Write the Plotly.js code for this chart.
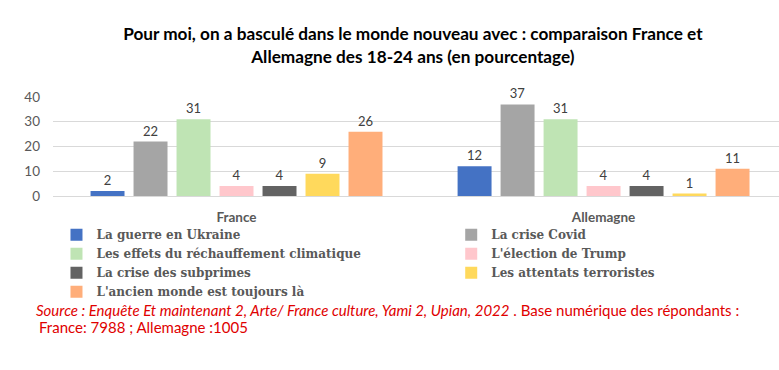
<!DOCTYPE html>
<html>
<head>
<meta charset="utf-8">
<script src="https://cdn.plot.ly/plotly-3.0.1.min.js"></script>
<style>html,body{margin:0;padding:0;background:#fff;}#chart{width:779px;height:370px;}</style>
</head>
<body>
<div id="chart"></div>
<script>
const countries = ["France", "Allemagne"];
const seriesNames = [
  "La guerre en Ukraine",
  "La crise Covid",
  "Les effets du réchauffement climatique",
  "L'élection de Trump",
  "La crise des subprimes",
  "Les attentats terroristes",
  "L'ancien monde est toujours là"
];
const ukraine = [2, 12];
const covid = [22, 37];
const climat = [31, 31];
const trump = [4, 4];
const subprimes = [4, 4];
const attentats = [9, 1];
const ancien = [26, 11];
const seriesValues = [ukraine, covid, climat, trump, subprimes, attentats, ancien];
const colors = ["#4472C4", "#A5A5A5", "#BFE4B4", "#FFC7CC", "#636363", "#FFD95C", "#FFAE7A"];
const yTicks = [0, 10, 20, 30, 40];

const traces = seriesNames.map((name, i) => ({
  type: "bar",
  name: name,
  x: countries,
  y: seriesValues[i],
  marker: {color: colors[i]},
  text: seriesValues[i].map(String),
  textposition: "outside",
  cliponaxis: false,
  textfont: {family: "Lato, 'Open Sans', sans-serif", size: 13, color: "#404040"},
  legend: (i % 2 === 0) ? "legend" : "legend2",
  hoverinfo: "name+y"
}));

const legendFont = {family: "'DejaVu Serif', 'Liberation Serif', serif", size: 12, color: "#595959", weight: "bold"};

const layout = {
  width: 779,
  height: 370,
  margin: {l: 53, r: 0, t: 97, b: 174},
  paper_bgcolor: "#fff",
  plot_bgcolor: "#fff",
  barmode: "group",
  bargap: 0.18,
  bargroupgap: 0.21,
  title: {
    text: "<b>Pour moi, on a basculé dans le monde nouveau avec : comparaison France et<br>Allemagne des 18-24 ans (en pourcentage)</b>",
    font: {family: "Lato, 'Open Sans', sans-serif", size: 17.2, color: "#000"},
    x: 0.53, xanchor: "center",
    y: 0.891, yanchor: "top", yref: "container"
  },
  xaxis: {
    type: "category",
    range: [-0.5, 1.478],
    showgrid: false,
    showline: false,
    ticks: "",
    tickfont: {family: "Lato, 'Open Sans', sans-serif", size: 13.5, color: "#595959", weight: "bold"},
    ticklabelstandoff: 11,
    fixedrange: true
  },
  yaxis: {
    range: [0, 40],
    tickvals: yTicks,
    showgrid: true,
    gridcolor: "#D9D9D9",
    gridwidth: 1,
    zeroline: true,
    zerolinecolor: "#D9D9D9",
    zerolinewidth: 1,
    showline: false,
    ticks: "",
    tickfont: {family: "Lato, 'Open Sans', sans-serif", size: 13.5, color: "#595959"},
    ticklabelstandoff: 12,
    fixedrange: true
  },
  showlegend: true,
  legend: {
    orientation: "v",
    x: 0.0048, xanchor: "left", xref: "paper",
    y: -0.245, yanchor: "top",
    font: legendFont,
    bgcolor: "rgba(0,0,0,0)",
    traceorder: "normal",
    itemclick: false, itemdoubleclick: false
  },
  legend2: {
    orientation: "v",
    x: 0.5485, xanchor: "left", xref: "paper",
    y: -0.245, yanchor: "top",
    font: legendFont,
    bgcolor: "rgba(0,0,0,0)",
    traceorder: "normal",
    itemclick: false, itemdoubleclick: false
  },
  annotations: [
    {
      xref: "paper", yref: "paper",
      x: -0.026, y: -1.1515, xanchor: "left", yanchor: "middle",
      align: "left",
      showarrow: false,
      text: "<i>Source : Enquête Et maintenant 2, Arte/ France culture, Yami 2, Upian, 2022</i> . Base numérique des répondants :",
      font: {family: "Lato, 'Open Sans', sans-serif", size: 15, color: "#E00000"}
    },
    {
      xref: "paper", yref: "paper",
      x: -0.022, y: -1.323, xanchor: "left", yanchor: "middle",
      align: "left",
      showarrow: false,
      text: "France: 7988 ; Allemagne :1005",
      font: {family: "Lato, 'Open Sans', sans-serif", size: 15, color: "#E00000"}
    }
  ]
};

Plotly.newPlot("chart", traces, layout, {displayModeBar: false, staticPlot: false});
</script>
</body>
</html>
